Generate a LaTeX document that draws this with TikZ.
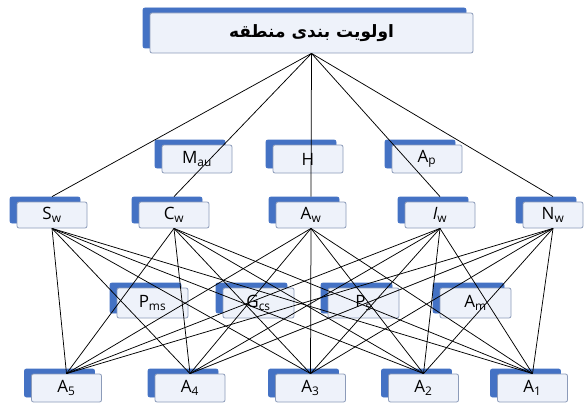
\documentclass[tikz,border=0pt]{standalone}
\usepackage{fontspec}
\setmainfont{Open Sans}
\newfontfamily\arabicfont[Script=Arabic]{DejaVu Sans}
\TeXXeTstate=1
\usetikzlibrary{shadows}
\definecolor{shblue}{RGB}{68,114,196}
\definecolor{boxfill}{RGB}{238,242,250}
\definecolor{boxedge}{RGB}{140,155,185}
\newcommand{\sbs}[1]{\textsubscript{#1}}
\begin{document}
\begin{tikzpicture}[x=1pt,y=-1pt,
  box/.style={rectangle, rounded corners=2pt, fill=boxfill, draw=boxedge, line width=0.8pt,
    inner sep=0pt, font=\fontsize{17}{19}\selectfont,
    copy shadow={shadow xshift=-7pt, shadow yshift=5pt, fill=shblue, draw=shblue}},
  rowa/.style={box, minimum width=70pt, minimum height=28pt},
  rowb/.style={box, minimum width=70pt, minimum height=26pt},
  rowc/.style={box, minimum width=71pt, minimum height=30pt},
  rowd/.style={box, minimum width=70pt, minimum height=28pt},
  link/.style={draw=black, line width=0.75pt}]
\useasboundingbox (0,0) rectangle (587,404);
\fill[white] (0,0) rectangle (587,404);
% top
\node[box, minimum width=323pt, minimum height=40pt] (top) at (311.5,33)
  {\arabicfont\bfseries\fontsize{17}{19}\selectfont\beginR اولویت بندی منطقه\endR};
% row 1
\node[rowa] (mau) at (197,159) {M\sbs{au}};
\node[rowa] (h) at (308,159) {H};
\node[rowa] (ap) at (427,159) {A\sbs{p}};
% row 2 criteria
\node[rowb] (sw) at (52,215) {S\sbs{w}};
\node[rowb] (cw) at (174,215) {C\sbs{w}};
\node[rowb] (aw) at (311,215) {A\sbs{w}};
\node[rowb] (iw) at (440,215) {\textit{I}\sbs{w}};
\node[rowb, minimum width=60pt] (nw) at (553,215) {N\sbs{w}};
% row 3
\node[rowc] (pms) at (152.5,303) {P\sbs{ms}};
\node[rowc] (gcs) at (258.5,303) {G\sbs{cs}};
\node[rowc] (ps) at (363.5,303) {P\sbs{s}};
\node[rowc] (am) at (475.5,303) {A\sbs{m}};
% bottom
\node[rowd] (a5) at (66.5,388) {A\sbs{5}};
\node[rowd] (a4) at (190,388) {A\sbs{4}};
\node[rowd] (a3) at (310.5,388) {A\sbs{3}};
\node[rowd] (a2) at (423.5,388) {A\sbs{2}};
\node[rowd] (a1) at (532.5,388) {A\sbs{1}};
% links
\foreach \c in {sw,cw,aw,iw,nw}{
  \draw[link] (top.south) -- ([yshift=5pt]\c.north);
  \foreach \a in {a5,a4,a3,a2,a1}{
    \draw[link] (\c.south) -- (\a.north);
  }
}
\end{tikzpicture}
\end{document}
